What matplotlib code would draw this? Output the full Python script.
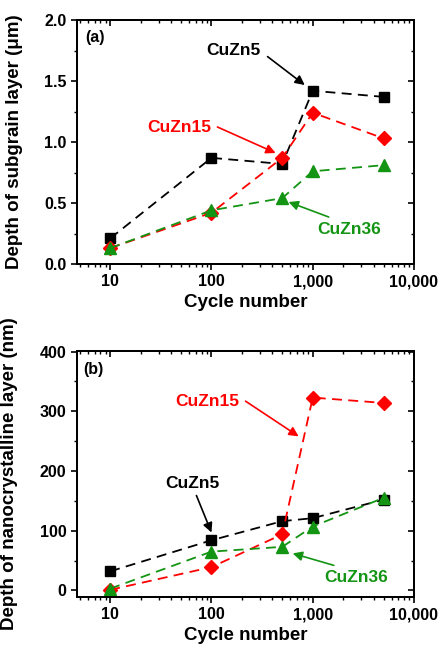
import matplotlib
matplotlib.use("Agg")
import matplotlib.pyplot as plt
from matplotlib.ticker import FixedLocator, MultipleLocator, LogLocator, NullFormatter

plt.rcParams['font.family'] = ['Liberation Sans', 'DejaVu Sans']
plt.rcParams['font.weight'] = 'bold'

cycles = [10, 100, 500, 1000, 5000]
series = ["CuZn5", "CuZn15", "CuZn36"]
subgrain_cuzn5 = [0.21, 0.87, 0.82, 1.42, 1.37]
subgrain_cuzn15 = [0.13, 0.42, 0.87, 1.24, 1.03]
subgrain_cuzn36 = [0.13, 0.44, 0.54, 0.76, 0.81]
nano_cuzn5 = [32, 84, 116, 121, 152]
nano_cuzn15 = [1, 39, 94, 323, 314]
nano_cuzn36 = [3, 65, 73, 107, 155]
xticks = [10, 100, 1000, 10000]
xticklabels = ["10", "100", "1,000", "10,000"]

colors = {"CuZn5": "black", "CuZn15": "#ff0000", "CuZn36": "#139413"}
markers = {"CuZn5": "s", "CuZn15": "D", "CuZn36": "^"}
msize = {"CuZn5": 7, "CuZn15": 7, "CuZn36": 8}

fig = plt.figure(figsize=(4.38, 6.46), dpi=100)
ax1 = fig.add_axes([77/438, 1-264/646, 337/438, 244/646])
ax2 = fig.add_axes([77/438, 1-597/646, 337/438, 246/646])


def style(ax, ylim, major, minor, ylabel, letter, letter_xy, ylabel_x):
    ax.set_xscale('log')
    ax.set_xlim(4.7, 10000)
    ax.set_ylim(*ylim)
    ax.xaxis.set_major_locator(FixedLocator(xticks))
    ax.set_xticklabels(xticklabels)
    ax.xaxis.set_minor_locator(LogLocator(base=10, subs=range(2, 10)))
    ax.xaxis.set_minor_formatter(NullFormatter())
    ax.yaxis.set_major_locator(MultipleLocator(major))
    ax.yaxis.set_minor_locator(MultipleLocator(minor))
    ax.tick_params(which='major', direction='out', length=4, width=1.2, labelsize=11.5)
    ax.tick_params(which='minor', direction='out', length=2.5, width=1.0)
    for s in ax.spines.values():
        s.set_linewidth(1.3)
    ax.set_xlabel("Cycle number", fontsize=13.5, fontweight='bold', labelpad=3)
    ax.set_ylabel(ylabel, fontsize=13.5, fontweight='bold')
    ax.yaxis.set_label_coords(ylabel_x, 0.5)
    ax.text(letter_xy[0], letter_xy[1], letter, transform=ax.transAxes,
            fontsize=11.5, fontweight='bold', ha='left', va='center')
    # top and right inward ticks
    tx = ax.twiny()
    tx.set_xscale('log')
    tx.set_xlim(ax.get_xlim())
    tx.xaxis.set_major_locator(FixedLocator(xticks))
    tx.xaxis.set_minor_locator(LogLocator(base=10, subs=range(2, 10)))
    tx.xaxis.set_major_formatter(NullFormatter())
    tx.xaxis.set_minor_formatter(NullFormatter())
    tx.tick_params(which='major', direction='in', length=4, width=1.2)
    tx.tick_params(which='minor', direction='in', length=2.5, width=1.0)
    ty = ax.twinx()
    ty.set_ylim(ax.get_ylim())
    ty.yaxis.set_major_locator(MultipleLocator(major))
    ty.yaxis.set_minor_locator(MultipleLocator(minor))
    ty.yaxis.set_major_formatter(NullFormatter())
    ty.tick_params(which='major', direction='in', length=4, width=1.2)
    ty.tick_params(which='minor', direction='in', length=2.5, width=1.0)
    for t in (tx, ty):
        for s in t.spines.values():
            s.set_linewidth(1.3)


def plot_series(ax, data):
    for name, vals in zip(series, data):
        ax.plot(cycles, vals, linestyle=(0, (5.5, 3.5)), color=colors[name], lw=1.3,
                marker=markers[name], markersize=msize[name],
                markerfacecolor=colors[name], markeredgecolor=colors[name], zorder=3)


def label(ax, text, xy_text, tail, head, color):
    ax.text(xy_text[0], xy_text[1], text, color=color, fontsize=12.5,
            fontweight='bold', ha='center', va='center', zorder=5)
    ax.annotate('', xy=head, xytext=tail,
                arrowprops=dict(arrowstyle='-|>', color=color, lw=1.2,
                                mutation_scale=14, shrinkA=0, shrinkB=0), zorder=5)


plot_series(ax1, [subgrain_cuzn5, subgrain_cuzn15, subgrain_cuzn36])
style(ax1, (0, 2.0), 0.5, 0.25, "Depth of subgrain layer (μm)", "(a)", (0.025, 0.93), -0.16)
label(ax1, "CuZn5", (165, 1.75), (358, 1.70), (834, 1.467), colors["CuZn5"])
label(ax1, "CuZn15", (48.2, 1.115), (114.5, 1.123), (430, 0.91), colors["CuZn15"])
label(ax1, "CuZn36", (2270, 0.279), (1439, 0.385), (578, 0.508), colors["CuZn36"])

plot_series(ax2, [nano_cuzn5, nano_cuzn15, nano_cuzn36])
style(ax2, (-11, 401), 100, 50, "Depth of nanocrystalline layer (nm)", "(b)", (0.02, 0.925), -0.175)
label(ax2, "CuZn15", (91.2, 317), (217, 317), (726, 258), colors["CuZn15"])
label(ax2, "CuZn5", (64.9, 179.5), (71, 159), (100, 97), colors["CuZn5"])
label(ax2, "CuZn36", (2667, 22), (1614, 42), (634, 62), colors["CuZn36"])

fig.savefig("out.png", dpi=100)
